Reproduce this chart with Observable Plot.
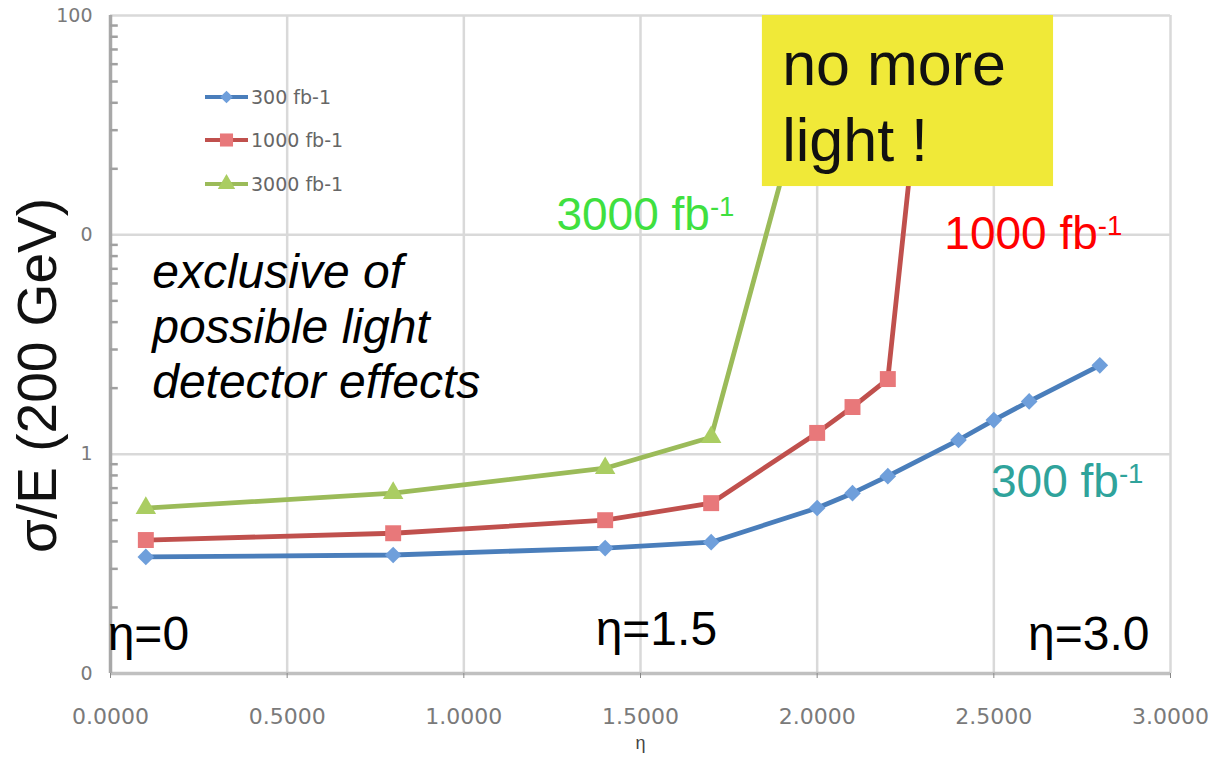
<!DOCTYPE html>
<html>
<head>
<meta charset="utf-8">
<script src="https://cdn.jsdelivr.net/npm/d3@7"></script>
<script src="https://cdn.jsdelivr.net/npm/@observablehq/plot@0.6"></script>
<style>
  html, body { margin: 0; padding: 0; background: #fff; }
  #chart svg { display: block; }
</style>
</head>
<body>
<div id="chart"></div>
<script>
// ---- data ----
const eta300   = [0.1, 0.8, 1.4, 1.7, 2.0, 2.1, 2.2, 2.4, 2.5, 2.6, 2.8];
const sigma300 = [0.34, 0.347, 0.373, 0.397, 0.568, 0.664, 0.794, 1.16, 1.43, 1.74, 2.54];

const eta1000   = [0.1, 0.8, 1.4, 1.7, 2.0, 2.1, 2.2, 2.3];
const sigma1000 = [0.406, 0.436, 0.50, 0.598, 1.25, 1.64, 2.20, 72];

const eta3000   = [0.1, 0.8, 1.4, 1.7, 2.0];
const sigma3000 = [0.568, 0.664, 0.863, 1.195, 72];

const seriesNames = ["300 fb-1", "1000 fb-1", "3000 fb-1"];

const xTicks = [0, 0.5, 1.0, 1.5, 2.0, 2.5, 3.0];
const yTicks = [0.1, 1, 10, 100];
const yTickLabels = ["0", "1", "0", "100"];
const yMinor = [2,3,4,5,6,7,8,9].flatMap(m => [m * 0.1, m * 1, m * 10]);

const yTitle = "σ/E (200 GeV)";
const xTitle = "η";

const noteText = "exclusive of\npossible light\ndetector effects";
const boxText = "no more\nlight !";
const curveLabelTexts = ["3000 fb^-1", "1000 fb^-1", "300 fb^-1"];
const etaLabelTexts = ["η=0", "η=1.5", "η=3.0"];

// ---- styles / annotation placement (data units) ----
const styles = [
  {line: "#4a7ebb", fill: "#6f9fdb", symbol: "diamond2", r: 7.5},
  {line: "#c0504d", fill: "#e8787a", symbol: "square", r: 9},
  {line: "#9bbb59", fill: "#aacd62", symbol: "triangle", r: 7.6}
];
const curveLabelPos = [
  {eta: 1.262, sigma: 10.5, color: "#3fe03f"},
  {eta: 2.36, sigma: 8.6, color: "#ff0000"},
  {eta: 2.492, sigma: 0.637, color: "#2fa39b"}
];
const etaLabelPos = [
  {eta: -0.008, sigma: 0.128},
  {eta: 1.373, sigma: 0.135},
  {eta: 2.597, sigma: 0.128}
];
const box = {x1: 1.845, x2: 2.669, y1: 100, y2: 16.6};

const seriesData = [
  {eta: eta300, sigma: sigma300},
  {eta: eta1000, sigma: sigma1000},
  {eta: eta3000, sigma: sigma3000}
];
const tables = seriesData.map((s, k) => s.eta.map((e, i) => ({eta: e, sigma: s.sigma[i], series: seriesNames[k]})));

const labelMap = new Map(yTicks.map((t, i) => [t, yTickLabels[i]]));
const sans = "Liberation Sans, Arial, Helvetica, sans-serif";

const marks = [
  // grid
  Plot.ruleX(xTicks.slice(1), {x: d => d, stroke: "#d9d9d9", strokeWidth: 2.5}),
  Plot.ruleY(yTicks.slice(1), {y: d => d, stroke: "#d9d9d9", strokeWidth: 2.5}),
  // axis lines
  Plot.ruleY([0.1], {y: d => d, stroke: "#c0c0c0", strokeWidth: 3.5}),
  Plot.ruleX([0], {x: d => d, stroke: "#a8a8a8", strokeWidth: 3.5}),
  Plot.ruleY(yMinor, {y: d => d, x1: 0, x2: 0.022, stroke: "#a0a0a0", strokeWidth: 2.5}),
  Plot.axisX({ticks: xTicks, tickFormat: d3.format(".4f"), tickSize: 5, tickPadding: 30,
    fontSize: 22, fontFamily: "DejaVu Sans, sans-serif", fill: "#7a7a7a", stroke: "#888", label: null}),
  Plot.axisY({ticks: yTicks, tickFormat: d => labelMap.get(d), tickSize: 0, tickPadding: 18,
    fontSize: 19, fontFamily: "DejaVu Sans, sans-serif", fill: "#7a7a7a", label: null}),
];

tables.forEach((t, k) => {
  marks.push(Plot.line(t, {x: "eta", y: "sigma", stroke: styles[k].line, strokeWidth: 4.8, strokeLinejoin: "round"}));
});
tables.forEach((t, k) => {
  marks.push(Plot.dot(t, {x: "eta", y: "sigma", symbol: () => styles[k].symbol, r: styles[k].r, fill: styles[k].fill, stroke: "none"}));
});

marks.push(
  Plot.rect([box], {x1: "x1", x2: "x2", y1: "y1", y2: "y2", fill: "#f0e938"}),
  Plot.text([boxText], {x: box.x1 + 0.056, y: 21.8, text: d => d, textAnchor: "start", lineAnchor: "bottom",
    lineHeight: 1.24, fontSize: 61, fill: "#111", fontFamily: sans}),
  Plot.text([noteText], {x: 0.118, y: 1.80, text: d => d, textAnchor: "start", lineAnchor: "bottom",
    lineHeight: 1.15, fontSize: 48, fontStyle: "italic", fill: "#000", fontFamily: sans}),
  Plot.text(curveLabelPos, {x: "eta", y: "sigma", text: (d, i) => curveLabelTexts[i], fill: "color",
    textAnchor: "start", lineAnchor: "bottom", fontSize: 46, fontFamily: sans}),
  Plot.text(etaLabelPos, {x: "eta", y: "sigma", text: (d, i) => etaLabelTexts[i],
    textAnchor: "start", lineAnchor: "bottom", fontSize: 48, fill: "#000", fontFamily: sans}),
  Plot.text([yTitle], {frameAnchor: "left", text: d => d, rotate: -90, textAnchor: "middle", lineAnchor: "middle",
    dx: -72, dy: 31, fontSize: 55, fill: "#111", fontFamily: sans}),
  Plot.text([xTitle], {frameAnchor: "bottom", text: d => d, dy: 75, fontSize: 18, fill: "#444", fontFamily: sans})
);

const chart = Plot.plot({
  width: 1213,
  height: 757,
  marginTop: 15,
  marginLeft: 110,
  marginRight: 43,
  marginBottom: 84,
  style: {background: "#fff", fontFamily: sans, overflow: "visible"},
  x: {domain: [0, 3]},
  y: {type: "log", domain: [0.1, 100]},
  color: {type: "identity"},
  marks
});

// superscripts "^-1"
d3.select(chart).selectAll("text").each(function () {
  const t = this.textContent;
  if (t.includes("^")) {
    const [a, b] = t.split("^");
    const sel = d3.select(this);
    sel.text(a);
    sel.append("tspan").attr("dy", "-0.5em").attr("font-size", "0.6em").text(b);
  }
});

// legend (inside the plot area, top-left)
const legend = d3.select(chart).append("g").attr("font-family", "DejaVu Sans, sans-serif").attr("text-anchor", "start");
const legendY = [97, 140, 184];
const legendR = [5.5, 8, 7];
seriesNames.forEach((name, k) => {
  const g = legend.append("g").attr("transform", `translate(205,${legendY[k]})`);
  g.append("line").attr("x1", 0).attr("x2", 43).attr("stroke", styles[k].line).attr("stroke-width", 4);
  const size = Math.PI * legendR[k] * legendR[k] * 0.85;
  const sym = {diamond2: d3.symbolSquare, square: d3.symbolSquare, triangle: d3.symbolTriangle}[styles[k].symbol];
  const rot = styles[k].symbol === "diamond2" ? " rotate(45)" : "";
  g.append("path").attr("transform", "translate(21.5,0)" + rot).attr("d", d3.symbol(sym, size)()).attr("fill", styles[k].fill);
  g.append("text").attr("x", 46).attr("dy", "0.35em").attr("font-size", 19).attr("fill", "#666").text(name);
});

document.getElementById("chart").appendChild(chart);
</script>
</body>
</html>
